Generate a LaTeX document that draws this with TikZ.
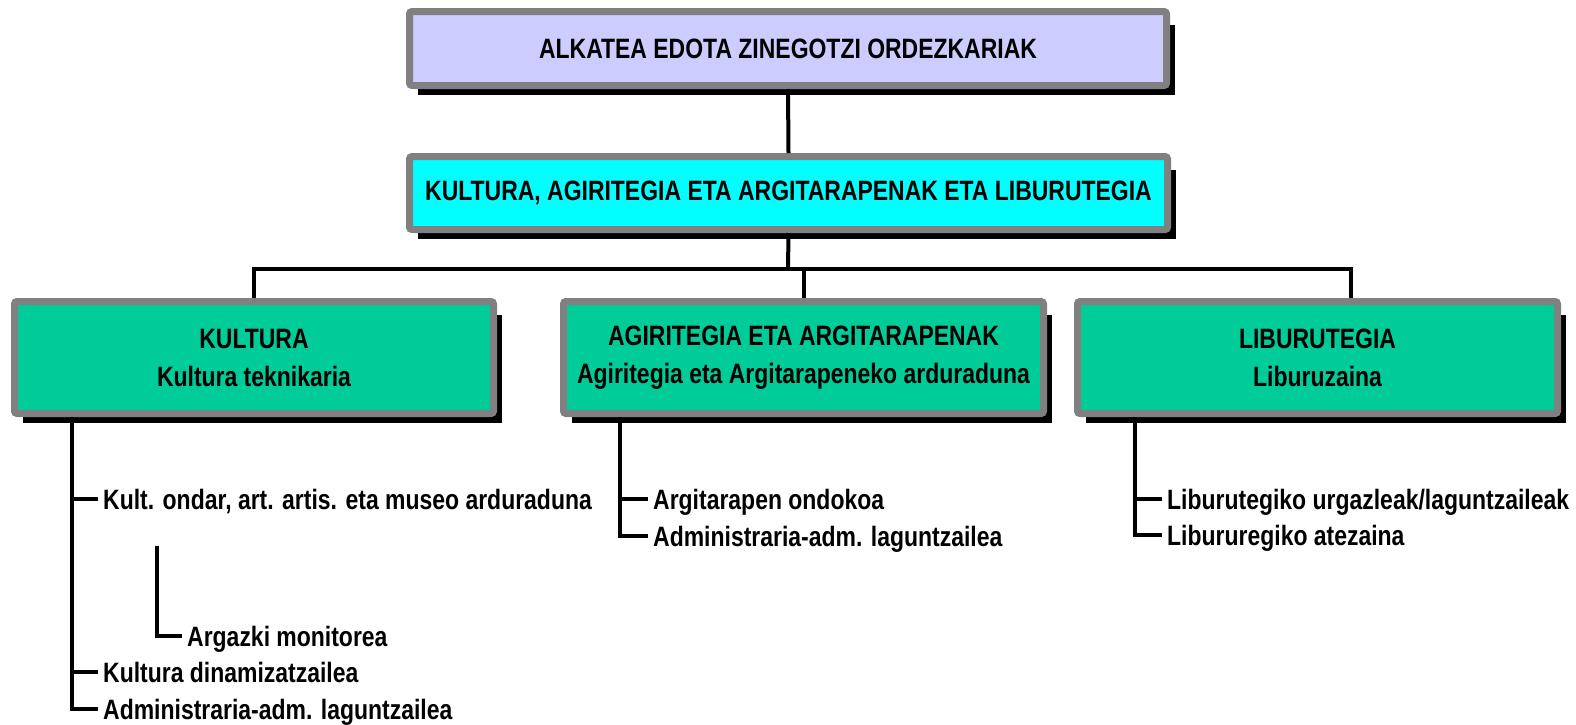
\documentclass[tikz,border=0pt]{standalone}
\usepackage{fontspec}
\setmainfont[FakeStretch=0.82]{Liberation Sans}
\usetikzlibrary{calc,backgrounds}

\definecolor{boxgray}{RGB}{128,128,128}
\definecolor{topfill}{RGB}{204,204,255}
\definecolor{deptfill}{RGB}{0,255,255}
\definecolor{unitfill}{RGB}{0,204,153}

\tikzset{
  orgbox/.style={draw=boxgray, line width=7pt, rounded corners=2.5pt, inner sep=0pt,
    align=center, font=\fontsize{28}{38}\selectfont\bfseries},
  staff/.style={anchor=west, inner xsep=5pt, inner ysep=0pt, text height=20pt, text depth=0pt,
    font=\fontsize{28}{34}\selectfont\bfseries},
  link/.style={line width=4pt},
}
\newcommand{\boxshadow}[1]{\fill[black] ($(#1.north west)+(12,17)$) rectangle ($(#1.south east)+(5,6)$);}

\begin{document}
\begin{tikzpicture}[x=1pt, y=-1pt]
		%%%%% START %%%%%
		\useasboundingbox (0,0) rectangle (1576,724);

		\node[orgbox, fill=topfill, minimum width=757pt, minimum height=74pt] (mayor) at (788,48.5) {ALKATEA EDOTA ZINEGOTZI ORDEZKARIAK};
		\node[orgbox, fill=deptfill, minimum width=758pt, minimum height=73pt] (dept) at (788.5,193) {KULTURA, AGIRITEGIA ETA ARGITARAPENAK ETA LIBURUTEGIA};

		\node[orgbox, fill=unitfill, minimum width=479pt, minimum height=112pt] (kultura) at (254,357.5) {KULTURA\\Kultura teknikaria};
		\node[orgbox, fill=unitfill, minimum width=480pt, minimum height=112pt] (argit) at (803.5,357.5) {AGIRITEGIA ETA ARGITARAPENAK\\Agiritegia eta Argitarapeneko arduraduna};
		\node[orgbox, fill=unitfill, minimum width=480pt, minimum height=112pt] (liburu) at (1317.5,357.5) {LIBURUTEGIA\\Liburuzaina};

		\begin{scope}[on background layer]
			\foreach \b in {mayor,dept,kultura,argit,liburu} {\boxshadow{\b}}
		\end{scope}

		% upper links
		\coordinate (bus) at (788,269);
		\coordinate (ltop) at ($(liburu.north)+(33,0)$);
		\draw[link] (mayor.south) -- (dept.north);
		\draw[link] (dept.south) -- (bus);
		\draw[link] (kultura.north) |- (ltop |- bus) -- (ltop);
		\draw[link] (argit.north) -- (argit.north |- bus);

		% kultura staff
		\coordinate (ktrunk) at ($(kultura.south west)+(61,0)$);
		\coordinate (ksub) at (157,546);
		\node[staff] (k1) at (98,499) {Kult. ondar, art. artis. eta museo arduraduna};
		\node[staff] (k2) at (182,636) {Argazki monitorea};
		\node[staff] (k3) at (98,672) {Kultura dinamizatzailea};
		\node[staff] (k4) at (98,709) {Administraria-adm. laguntzailea};
		\draw[link] (ktrunk) |- (k4.west);
		\draw[link] (ktrunk |- k1.west) -- (k1.west);
		\draw[link] (ktrunk |- k3.west) -- (k3.west);
		\draw[link] (ksub) |- (k2.west);

		% agiritegia staff
		\coordinate (atrunk) at ($(argit.south west)+(60,0)$);
		\node[staff] (a1) at (648,499) {Argitarapen ondokoa};
		\node[staff] (a2) at (648,536) {Administraria-adm. laguntzailea};
		\draw[link] (atrunk) |- (a2.west);
		\draw[link] (atrunk |- a1.west) -- (a1.west);

		% liburutegia staff
		\coordinate (ltrunk) at ($(liburu.south west)+(61,0)$);
		\node[staff] (l1) at (1162,499) {Liburutegiko urgazleak/laguntzaileak};
		\node[staff] (l2) at (1162,535) {Libururegiko atezaina};
		\draw[link] (ltrunk) |- (l2.west);
		\draw[link] (ltrunk |- l1.west) -- (l1.west);

		%%%%% END %%%%%
\end{tikzpicture}
\end{document}
